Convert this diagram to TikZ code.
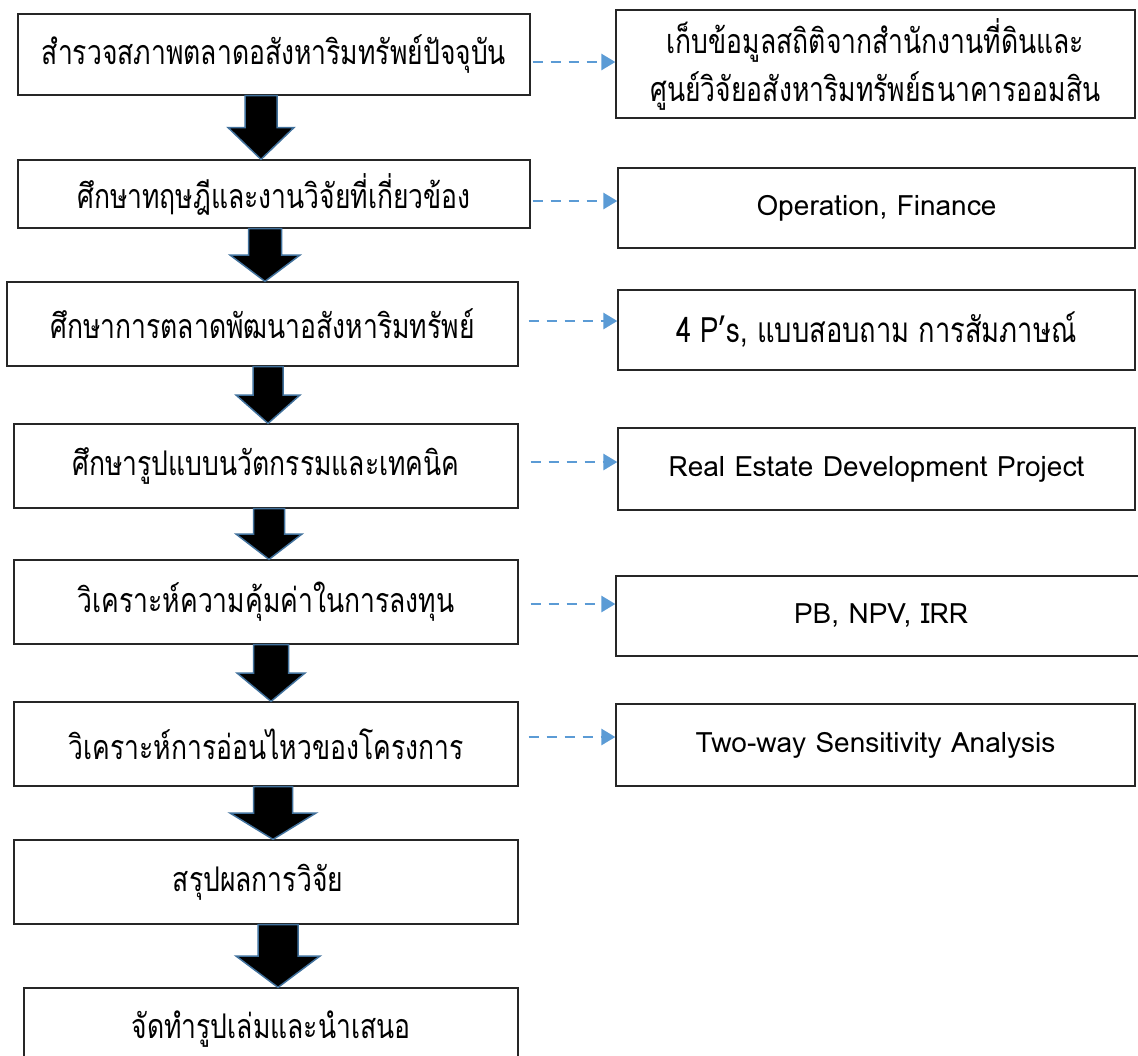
\documentclass[tikz,border=0pt]{standalone}
\usepackage{fontspec}
\newfontfamily\thaifont[Script=Thai,FakeStretch=0.78]{Loma}
\newfontfamily\latinfont{Loma}
\usetikzlibrary{calc,arrows.meta}
\definecolor{arrowedge}{HTML}{41719C}
\definecolor{linkblue}{HTML}{5B9BD5}

% Block arrow between two stacked boxes:
% #1 upper node, #2 lower node, #3 centre x, #4 half shaft width, #5 half head width
\newcommand\flowarrow[5]{%
  \pgfmathsetmacro\arwSL{#3-#4}\pgfmathsetmacro\arwSR{#3+#4}%
  \pgfmathsetmacro\arwHL{#3-#5}\pgfmathsetmacro\arwHR{#3+#5}%
  \coordinate (arwmid) at ($(#1.south)!0.5!(#2.north)$);
  \filldraw[blockarrow] (\arwSL,0 |- #1.south) -- (\arwSL,0 |- arwmid)
    -- (\arwHL,0 |- arwmid) -- (#3,0 |- #2.north) -- (\arwHR,0 |- arwmid)
    -- (\arwSR,0 |- arwmid) -- (\arwSR,0 |- #1.south) -- cycle;}

\begin{document}
\begin{tikzpicture}[x=1pt,y=-1pt,
  box/.style={draw=black!85, line width=1.3pt, inner sep=0pt, align=center,
    font={\thaifont\fontsize{34}{48}\selectfont}},
  latin/.style={font={\latinfont\fontsize{28}{34}\selectfont}},
  blockarrow/.style={fill=black, draw=arrowedge, line width=1.5pt, line join=miter},
  dasharrow/.style={draw=linkblue, line width=2.8pt, dash pattern=on 10pt off 8pt,
    -{Triangle[length=14pt,width=16pt]}}]
\useasboundingbox (0,0) rectangle (1138,1055);

% process steps
\node[box, minimum width=512pt, minimum height=81pt] (l1) at (274,54.5) {สำรวจสภาพตลาดอสังหาริมทรัพย์ปัจจุบัน};
\node[box, minimum width=512pt, minimum height=68pt] (l2) at (274,194) {ศึกษาทฤษฎีและงานวิจัยที่เกี่ยวข้อง};
\node[box, minimum width=511pt, minimum height=84pt] (l3) at (262.5,324) {ศึกษาการตลาดพัฒนาอสังหาริมทรัพย์};
\node[box, minimum width=504pt, minimum height=84pt] (l4) at (266,466) {ศึกษารูปแบบนวัตกรรมและเทคนิค};
\node[box, minimum width=504pt, minimum height=84pt] (l5) at (266,602) {วิเคราะห์ความคุ้มค่าในการลงทุน};
\node[box, minimum width=504pt, minimum height=84pt] (l6) at (266,744) {วิเคราะห์การอ่อนไหวของโครงการ};
\node[box, minimum width=504pt, minimum height=84pt] (l7) at (266,882) {\hspace*{-16pt}สรุปผลการวิจัย};
\node[box, minimum width=494pt, minimum height=82pt] (l8) at (271,1029) {จัดทำรูปเล่มและนำเสนอ};

% methods and sources
\node[box, minimum width=519pt, minimum height=108pt] (r1) at (875.5,64) {เก็บข้อมูลสถิติจากสำนักงานที่ดินและ\\ศูนย์วิจัยอสังหาริมทรัพย์ธนาคารออมสิน};
\node[box, latin, minimum width=517pt, minimum height=80pt] (r2) at (876.5,208) {Operation, Finance};
\node[box, minimum width=517pt, minimum height=80pt, font={\thaifont\fontsize{35}{48}\selectfont}] (r3) at (876.5,330) {4 P’s, แบบสอบถาม การสัมภาษณ์};
\node[box, latin, minimum width=517pt, minimum height=82pt] (r4) at (876.5,469) {Real Estate Development Project};
\node[box, latin, minimum width=530pt, minimum height=80pt] (r5) at (881,616) {PB, NPV, IRR};
\node[box, latin, minimum width=519pt, minimum height=82pt] (r6) at (875.5,745) {Two-way Sensitivity Analysis};

% block arrows down the main sequence
\flowarrow{l1}{l2}{261}{16}{33}
\flowarrow{l2}{l3}{265}{16.5}{35}
\flowarrow{l3}{l4}{268}{15}{32}
\flowarrow{l4}{l5}{269}{15.5}{33}
\flowarrow{l5}{l6}{271}{17.5}{34}
\flowarrow{l6}{l7}{273}{19.5}{43}
\flowarrow{l7}{l8}{278}{20}{42}

% dashed links to the right-hand column
\foreach \a/\b/\dx/\dy in {l1/r1/2/7.5, l2/r2/2/7, l3/r3/10/-3, l4/r4/12/-4, l5/r5/12/2, l6/r6/10/-7}{
  \path ($(\a.east)+(\dx,\dy)$) coordinate (lnk);
  \draw[dasharrow] (lnk) -- (lnk -| \b.west);
}
\end{tikzpicture}
\end{document}
